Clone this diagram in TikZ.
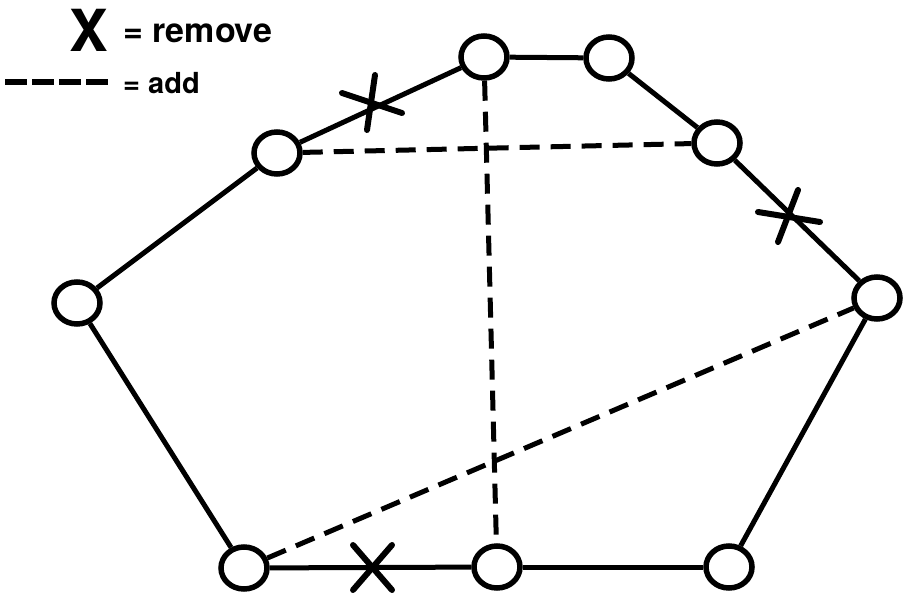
\documentclass[tikz,border=0pt]{standalone}
\usepackage{fontspec}
\setmainfont{TeX Gyre Heros}
\usetikzlibrary{shapes.geometric}
\begin{document}
\begin{tikzpicture}[x=1pt,y=-1pt,
  vertex/.style={ellipse,draw,line width=5.5pt,minimum width=46pt,minimum height=42pt,inner sep=0pt},
  edge/.style={line width=5pt},
  added/.style={line width=5pt,dash pattern=on 20pt off 11pt},
  cut/.style={line width=6pt,line cap=round},
  legtext/.style={inner sep=0pt}]
\useasboundingbox (0,0) rectangle (904,596);
% vertices of the tour
\node[vertex] (a) at (484,57) {};
\node[vertex] (b) at (609,58) {};
\node[vertex] (c) at (717,143) {};
\node[vertex] (d) at (877,298) {};
\node[vertex] (e) at (729,567) {};
\node[vertex] (f) at (497,567) {};
\node[vertex] (g) at (244,568) {};
\node[vertex] (h) at (77,303) {};
\node[vertex] (i) at (277,153) {};
% tour edges
\draw[edge] (i) -- (a);
\draw[edge] (a) -- (b);
\draw[edge] (b) -- (c);
\draw[edge] (c) -- (d);
\draw[edge] (d) -- (e);
\draw[edge] (e) -- (f);
\draw[edge] (f) -- (g);
\draw[edge] (g) -- (h);
\draw[edge] (h) -- (i);
% edges added by the move
\draw[added] (i) -- (c);
\draw[added] (a) -- (f);
\draw[added] (g) -- (d);
% marks on the removed edges
\coordinate (x1a) at (375,75);  \coordinate (x1b) at (367,130);
\coordinate (x1c) at (342,93);  \coordinate (x1d) at (402,113);
\draw[cut] (x1a) -- (x1b);
\draw[cut] (x1c) -- (x1d);
\coordinate (x2a) at (798,190); \coordinate (x2b) at (778,242);
\coordinate (x2c) at (758,212); \coordinate (x2d) at (820,222);
\draw[cut] (x2a) -- (x2b);
\draw[cut] (x2c) -- (x2d);
\coordinate (x3a) at (353,545); \coordinate (x3b) at (392,590);
\coordinate (x3c) at (392,545); \coordinate (x3d) at (353,590);
\draw[cut] (x3a) -- (x3b);
\draw[cut] (x3c) -- (x3d);
% legend
\node[legtext,anchor=base,font=\bfseries\fontsize{58}{58}\selectfont] (lx) at (89,52) {X};
\node[legtext,anchor=base west,font=\bfseries\fontsize{34}{34}\selectfont] (lremove) at (123,43) {= remove};
\coordinate (ld1) at (5,82);
\coordinate (ld2) at (110,82);
\draw[line width=6pt,dash pattern=on 22pt off 5pt] (ld1) -- (ld2);
\node[legtext,anchor=base west,font=\bfseries\fontsize{29}{29}\selectfont] (ladd) at (123,94) {= add};
\end{tikzpicture}
\end{document}
